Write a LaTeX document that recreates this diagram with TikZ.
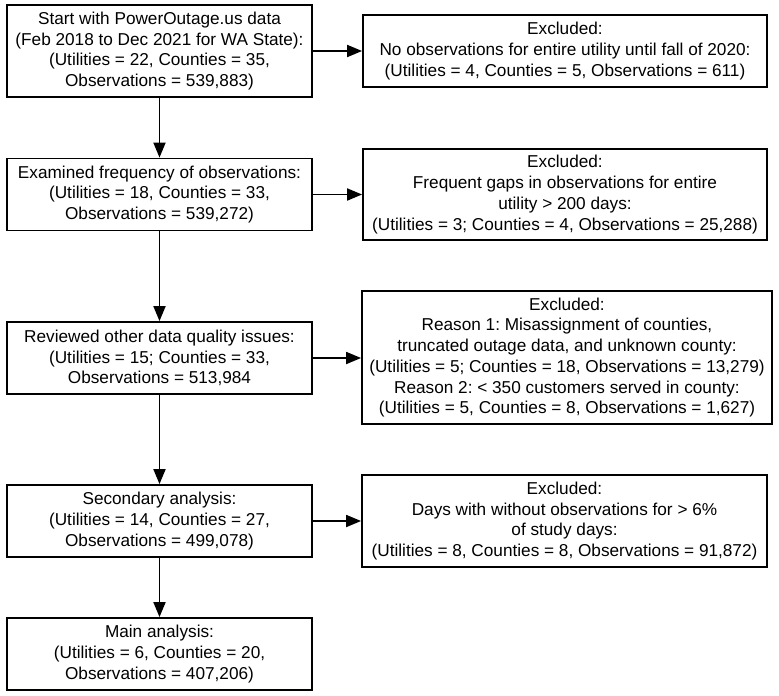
\documentclass[tikz,border=0pt]{standalone}
\usepackage{fontspec}
\setmainfont{Liberation Sans}
\usepackage{tikz}
\usetikzlibrary{arrows.meta}
\frenchspacing

\begin{document}
\begin{tikzpicture}[x=1pt,y=-1pt,
    stagebox/.style={draw,line width=1.8pt,align=center,inner sep=4pt,
      minimum width=305pt,minimum height=72pt,
      font=\fontsize{17.2}{20.7}\selectfont},
    dropbox/.style={stagebox,minimum width=404pt},
    flow/.style={line width=1.8pt,-{Triangle[length=15pt,width=12pt]}}]
    \useasboundingbox (0,0) rectangle (779,696);
    % main column
    \node[stagebox,minimum height=92pt] (start) at (159.5,51)
      {Start with PowerOutage.us data\\(Feb 2018 to Dec 2021 for WA State):\\(Utilities = 22, Counties = 35,\\Observations = 539,883)};
    \node[stagebox] (freq) at (159.5,194.5)
      {Examined frequency of observations:\\(Utilities = 18, Counties = 33,\\Observations = 539,272)};
    \node[stagebox] (review) at (159.5,358)
      {Reviewed other data quality issues:\\(Utilities = 15; Counties = 33,\\Observations = 513,984};
    \node[stagebox] (second) at (159.5,521)
      {Secondary analysis:\\(Utilities = 14, Counties = 27,\\Observations = 499,078)};
    \node[stagebox] (main) at (159.5,654)
      {Main analysis:\\(Utilities = 6, Counties = 20,\\Observations = 407,206)};
    % exclusions
    \node[dropbox] (drop1) at (565,51)
      {Excluded:\\No observations for entire utility until fall of 2020:\\(Utilities = 4, Counties = 5, Observations = 611)};
    \node[dropbox,minimum height=91pt] (drop2) at (565,194.5)
      {Excluded:\\Frequent gaps in observations for entire\\utility > 200 days:\\(Utilities = 3; Counties = 4, Observations = 25,288)};
    \node[dropbox,minimum width=410pt,minimum height=133pt] (drop3) at (567,357.5)
      {Excluded:\\Reason 1: Misassignment of counties,\\truncated outage data, and unknown county:\\(Utilities = 5; Counties = 18, Observations = 13,279)\\Reason 2: < 350 customers served in county:\\(Utilities = 5, Counties = 8, Observations = 1,627)};
    \node[dropbox,minimum width=405pt,minimum height=92pt] (drop4) at (564.5,521)
      {Excluded:\\Days with without observations for > 6\%\\of study days:\\(Utilities = 8, Counties = 8, Observations = 91,872)};
    % arrows
    \draw[flow] (start) -- (freq);
    \draw[flow] (freq) -- (review);
    \draw[flow] (review) -- (second);
    \draw[flow] (second) -- (main);
    \draw[flow] (start.east) -- (start.east -| drop1.west);
    \draw[flow] (freq.east) -- (freq.east -| drop2.west);
    \draw[flow] (review.east) -- (review.east -| drop3.west);
    \draw[flow] (second.east) -- (second.east -| drop4.west);
\end{tikzpicture}
\end{document}
